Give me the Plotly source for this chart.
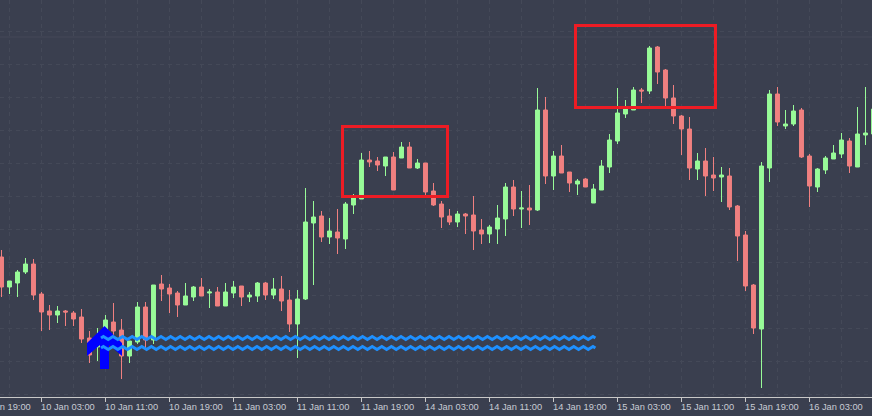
import plotly.graph_objects as go

tick_labels = ["09 Jan 19:00","10 Jan 03:00","10 Jan 11:00","10 Jan 19:00","11 Jan 03:00","11 Jan 11:00","11 Jan 19:00",
               "14 Jan 03:00","14 Jan 11:00","14 Jan 19:00","15 Jan 03:00","15 Jan 11:00","15 Jan 19:00","16 Jan 03:00"]
tick_bars = [-3,5,13,21,29,37,45,53,61,69,77,85,93,101]

# direction of each bar: 1 up (green), 0 down (red)
up = [0,1,1,1,0,0,0,1,0,0,0,0,1,1,0,0,1,1,0,1,0,0,0,1,1,0,1,0,1,1,0,1,1,0,1,0,0,1,
      1,1,0,1,0,1,1,1,0,0,1,0,1,0,1,0,0,0,0,1,0,0,0,1,1,1,0,1,0,1,0,1,0,0,1,0,1,1,1,1,
      1,1,0,1,0,0,0,0,0,1,0,0,1,0,0,0,0,1,1,0,1,1,0,0,1,1,1,1,0,1,1,1]
body_top = [257,281,272,264,264,294,311,311,311,313,317,338,340,320,322,330,341,307,307,285,284,288,293,296,287,287,292,292,292,287,286,295,283,283,289,289,300,299,
            222,217,216,231,232,204,198,160,160,161,157,157,147,147,163,163,191,204,216,214,214,215,230,227,218,187,187,208,208,110,110,156,156,172,181,179,189,166,140,113,
            107,90,90,48,47,70,98,116,129,161,161,175,175,176,206,235,285,166,94,94,124,111,110,156,169,158,153,140,141,134,133,109]
body_bot = [287,287,283,272,295,312,315,315,312,319,339,355,347,335,331,356,356,342,340,340,289,294,305,305,297,296,293,306,306,293,297,297,296,295,295,301,324,324,
            299,223,237,237,238,239,205,199,162,165,166,190,158,168,168,192,205,217,222,222,216,231,234,234,229,219,209,209,210,210,176,176,173,183,184,187,203,190,167,141,
            114,110,91,91,72,98,116,129,168,169,176,178,177,207,236,286,328,329,168,122,126,124,157,186,187,170,159,154,166,167,135,134]
high_px = [250,281,270,258,259,292,305,306,310,311,309,331,328,315,303,319,341,302,302,285,275,284,291,283,286,278,289,287,283,281,286,292,282,282,278,276,290,290,
           188,201,211,218,209,202,194,153,151,157,157,152,142,142,159,163,183,201,209,211,213,196,219,225,205,183,180,191,185,88,97,151,145,172,179,178,184,160,134,88,
           100,87,88,46,46,69,85,115,117,153,148,157,167,168,205,231,284,162,90,87,110,105,108,154,168,156,145,133,138,107,87,100]
low_px = [297,294,297,274,300,331,330,323,326,326,343,363,361,365,340,379,363,344,350,344,301,313,317,305,301,296,308,306,306,298,306,302,302,300,299,311,332,358,
          300,285,242,244,254,249,214,199,167,171,176,190,158,168,169,196,206,228,225,227,234,250,244,243,244,236,216,228,225,211,184,190,173,192,195,187,203,190,173,144,
          118,110,103,94,84,106,124,155,180,180,196,191,202,210,261,291,334,388,182,126,129,126,158,207,192,174,159,158,173,167,145,134]

PLOT_H = 397
to_y = lambda px: PLOT_H - px
opens = [to_y(b) if u else to_y(t) for u,t,b in zip(up,body_top,body_bot)]
closes = [to_y(t) if u else to_y(b) for u,t,b in zip(up,body_top,body_bot)]
highs = [to_y(v) for v in high_px]
lows = [to_y(v) for v in low_px]
bars = list(range(len(up)))

BAR_PX = 8.0
X0 = 1.5
xrange = [-X0/BAR_PX, (872 - X0)/BAR_PX]
bar_to_px = lambda b: X0 + BAR_PX*b
px_to_bar = lambda px: (px - X0)/BAR_PX

BG = "#3a3f4f"
GRID = "#444958"
GREEN = "#98fb98"
RED = "#f08080"
BLUE = "#1e90ff"

fig = go.Figure()
fig.add_trace(go.Candlestick(x=bars, open=opens, high=highs, low=lows, close=closes,
    increasing=dict(line=dict(color=GREEN, width=1), fillcolor=GREEN),
    decreasing=dict(line=dict(color=RED, width=1), fillcolor=RED),
    whiskerwidth=0, showlegend=False, hoverinfo="skip"))

# up arrow
arrow_px = [(104.5,326),(122,343),(122,356),(109,345),(109,369),(100,369),(100,345),(87,356),(87,343),(104.5,326)]
fig.add_trace(go.Scatter(x=[px_to_bar(p[0]) for p in arrow_px], y=[to_y(p[1]) for p in arrow_px],
    mode="lines", fill="toself", fillcolor="#0000ff", line=dict(color="#0000ff", width=0),
    showlegend=False, hoverinfo="skip"))

# wavy line pair
wave_pattern = [0, -1.5, 0, 1.5]
for level in (338, 348):
    xs, ys = [], []
    px = 101
    k = 0
    while px <= 596:
        xs.append(px_to_bar(px)); ys.append(to_y(level + wave_pattern[k % 4]))
        px += 2.4; k += 1
    fig.add_trace(go.Scatter(x=xs, y=ys, mode="lines", line=dict(color=BLUE, width=3),
                             showlegend=False, hoverinfo="skip"))

# rectangles
for x0,x1,y0,y1 in ((342.5,447.5,126.5,196.5),(575.5,715.5,25.5,107.5)):
    fig.add_shape(type="rect", x0=px_to_bar(x0), x1=px_to_bar(x1), y0=to_y(y0), y1=to_y(y1),
                  line=dict(color="#ed1c24", width=3), layer="above")

# faint solid level line
fig.add_shape(type="line", xref="paper", x0=0, x1=1, y0=to_y(37), y1=to_y(37), line=dict(color=GRID, width=1), layer="below")

for b, t in zip(tick_bars, tick_labels):
    fig.add_annotation(x=bar_to_px(b)/872, y=0, xref="paper", yref="paper", text=t, showarrow=False, xanchor="left", yanchor="top",
                       xshift=-3, yshift=-3, font=dict(family="Liberation Sans", size=9.3, color="#c8ccd4"))

fig.update_layout(width=872, height=416, margin=dict(l=0,r=0,t=0,b=19), paper_bgcolor=BG, plot_bgcolor=BG,
    showlegend=False,
    xaxis=dict(range=xrange, rangeslider=dict(visible=False), tickvals=tick_bars, showticklabels=False,
               ticks="outside", ticklen=4, tickcolor="#c8c8c8", tickwidth=1,
               showgrid=False, zeroline=False, showline=True, linecolor="#c8c8c8", linewidth=1,
               minor=dict(tick0=1, dtick=4, showgrid=True, gridcolor=GRID, griddash="4px,4px", gridwidth=1, ticks="")),
    yaxis=dict(range=[0,397], tickvals=[to_y(p) for p in range(31,396,33)], showticklabels=False, ticks="",
               showgrid=True, gridcolor=GRID, griddash="4px,4px", gridwidth=1, zeroline=False))
fig.write_html("out.html", config=dict(displayModeBar=False),
               post_script="document.body.style.margin='0';document.body.style.overflow='hidden';document.documentElement.style.background='#3a3f4f';")
